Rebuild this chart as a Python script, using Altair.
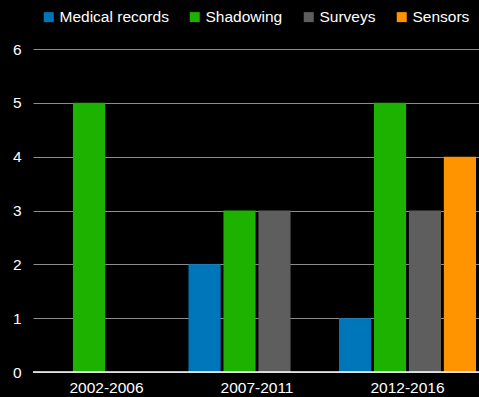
import altair as alt
import pandas as pd

periods = ["2002-2006", "2007-2011", "2012-2016"]
methods = ["Medical records", "Shadowing", "Surveys", "Sensors"]
colors = ["#0076BA", "#1DB100", "#5E5E5E", "#FF9300"]
medical = [0, 2, 1]
shadowing = [5, 3, 5]
surveys = [0, 3, 3]
sensors = [0, 0, 4]

rows = []
for i, p in enumerate(periods):
    for m, vals in zip(methods, [medical, shadowing, surveys, sensors]):
        rows.append({"period": p, "method": m, "count": vals[i]})
df = pd.DataFrame(rows)

FONT = "Liberation Sans"

chart = alt.Chart(df).mark_bar().encode(
    x=alt.X("period:N", sort=periods, title=None,
            scale=alt.Scale(paddingInner=0.0897, paddingOuter=0.0266, align=0.625),
            axis=alt.Axis(labelAngle=0, ticks=False, domain=False, labelPadding=8,
                          labelFontSize=15.5, labelColor="#ffffff", labelFont=FONT)),
    xOffset=alt.XOffset("method:N", sort=methods,
                        scale=alt.Scale(paddingInner=0.08, paddingOuter=0)),
    y=alt.Y("count:Q", title=None,
            scale=alt.Scale(domain=[0, 6], nice=False),
            axis=alt.Axis(values=[0, 1, 2, 3, 4, 5, 6], format="d", ticks=False, domain=False,
                          grid=True, gridColor="#8c8c8c", gridWidth=1,
                          labelPadding=12, labelFontSize=15.5, labelColor="#ffffff",
                          labelFont=FONT)),
    color=alt.Color("method:N", sort=methods,
                    scale=alt.Scale(domain=methods, range=colors),
                    legend=alt.Legend(title=None, orient="none", direction="horizontal",
                                      legendX=8, legendY=-40, symbolType="square",
                                      symbolSize=100, symbolStrokeWidth=0,
                                      labelFontSize=15.5, labelColor="#ffffff",
                                      labelFont=FONT, columnPadding=18,
                                      labelOffset=3)),
)

baseline = alt.Chart(pd.DataFrame({"y": [0]})).mark_rule(color="#ffffff", strokeWidth=1.5).encode(
    y=alt.Y("y:Q", scale=alt.Scale(domain=[0, 6], nice=False))
)

final = alt.layer(chart, baseline).properties(
    width=446, height=323,
    background="#000000",
    padding={"left": 33, "top": 49, "right": 0, "bottom": 25},
    autosize=alt.AutoSizeParams(type="none"),
).configure_view(stroke=None)

final.save("out.html", embed_options={"renderer": "svg", "actions": False})
